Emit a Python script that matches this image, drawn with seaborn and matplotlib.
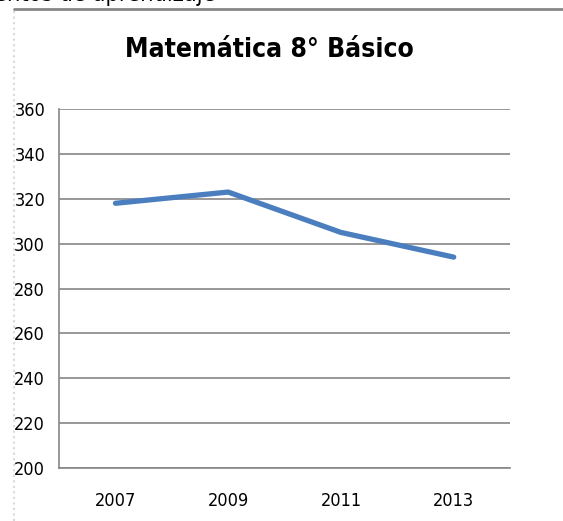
import matplotlib
matplotlib.use("Agg")
import matplotlib.pyplot as plt
from matplotlib.lines import Line2D
from matplotlib.ticker import FixedLocator
import seaborn as sns
import pandas as pd

# =========================
# Data
# =========================

years = ["2007", "2009", "2011", "2013"]
scores = [318, 323, 305, 294]
y_ticks = [200, 220, 240, 260, 280, 300, 320, 340, 360]

df = pd.DataFrame({"year": years, "score": scores})

# =========================
# Style
# =========================

sns.set_style("white")
plt.rcParams['font.family'] = ['DejaVu Sans']
plt.rcParams['font.stretch'] = 'condensed'

grey = "#868686"

fig = plt.figure(figsize=(5.63, 5.21), dpi=100)
ax = fig.add_axes([0.105, 0.1017, 0.801, 0.689])

sns.lineplot(
    data=df,
    x="year",
    y="score",
    color="#4A7EBF",
    linewidth=3.8,
    sort=False,
    ax=ax
)

ax.set_xlim(-0.5, 3.5)
ax.set_ylim(200, 360)
ax.set_yticks(y_ticks)
ax.yaxis.grid(True, color=grey, linewidth=1.2)
ax.xaxis.grid(False)

ax.set_xticks(range(len(years)))
ax.set_xticklabels(years)
ax.xaxis.set_minor_locator(FixedLocator([i - 0.5 for i in range(len(years) + 1)]))
ax.tick_params(axis="x", which="major", length=0, pad=17, labelsize=13, colors="black")
ax.tick_params(axis="x", which="minor", length=8, width=1.2, color=grey, direction="out")
ax.tick_params(axis="y", length=4, width=1.2, color=grey, pad=6, labelsize=13, direction="out")
ax.tick_params(axis="y", labelcolor="black")

ax.set_xlabel("")
ax.set_ylabel("")

for s in ["top", "right"]:
    ax.spines[s].set_visible(False)
for s in ["left", "bottom"]:
    ax.spines[s].set_color(grey)
    ax.spines[s].set_linewidth(1.2)

# =========================
# Title and frame
# =========================

fig.text(0.478, 0.904, "Matemática 8° Básico", ha="center", va="center",
         fontsize=19, fontweight="bold", color="black")

fig.text(-0.01, 1 - 1 / 521, "entos de aprendizaje", ha="left", va="baseline",
         fontsize=17, color="black")

fig.add_artist(Line2D([14 / 563, 1.0], [1 - 9 / 521, 1 - 9 / 521],
                      color=grey, linewidth=2, transform=fig.transFigure))
fig.add_artist(Line2D([14 / 563, 14 / 563], [0, 1 - 9 / 521],
                      color="#d9d9d9", linewidth=1.5, linestyle=":",
                      transform=fig.transFigure))

plt.savefig("out.png", dpi=100)
